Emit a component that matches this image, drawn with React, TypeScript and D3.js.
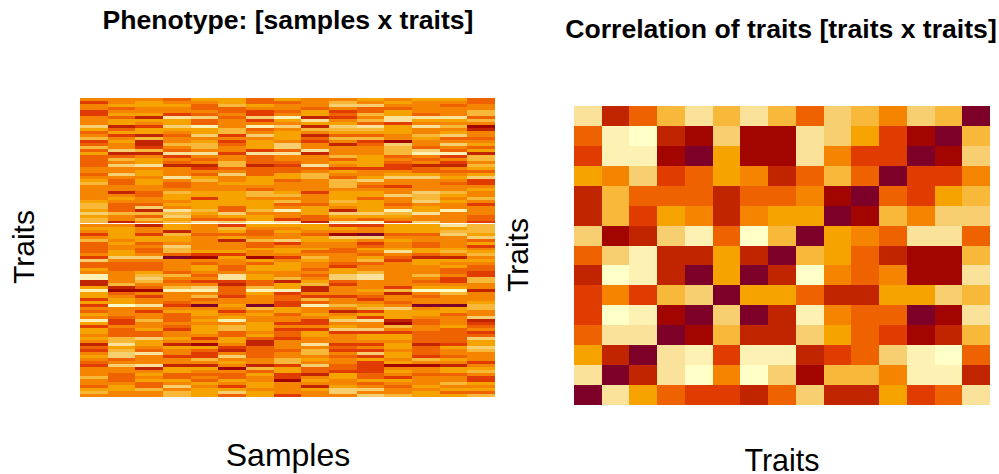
import React from "react";
import * as d3 from "d3";

// Colour levels of the heatmaps, darkest to lightest
const levelColors = ["#7d0029","#a20500","#c02500","#e03c00","#ee6200","#f58500","#f6a300","#f8b83a","#f7cf71","#fbe29a","#fef1b4","#ffffc8"];
const levelIds = "0123456789ab".split("");

// Phenotype: one string per sample, 100 traits, top to bottom (level per trait)
const phenotypeColumns = [
  "5355335558"+"6457347464"+"4445545675"+"5555677686"+"7756535744"+"445384465a"+"a226a66363"+"5465a63665"+"6524356543"+"5557554675",
  "5564564662"+"4635655824"+"7585585445"+"5256544475"+"5256666565"+"5668544455"+"557214566b"+"5554335444"+"7796788458"+"5544456655",
  "5665562653"+"6627223725"+"6695665665"+"5445548274"+"7525536645"+"4458544467"+"8754153559"+"5355755644"+"8665495559"+"2565644755",
  "4565539668"+"6545575493"+"5425559544"+"5766565978"+"6766276658"+"7740555547"+"5457a55543"+"5644454355"+"6526553552"+"6644658577",
  "654454844a"+"6685677595"+"4523546755"+"5663666765"+"4955545555"+"5631546654"+"5358a57450"+"5665656665"+"3516433752"+"6545465666",
  "6674454555"+"7735345535"+"5774585565"+"5666664486"+"4837646255"+"5636554459"+"9324443556"+"5356a57744"+"6653258565"+"1544653684",
  "446533835a"+"4585666394"+"4424446665"+"4775666756"+"6a65445744"+"6551646656"+"6447a65550"+"7565566656"+"4224444552"+"7465566566",
  "645545a658"+"5666588495"+"5434466455"+"5675745a55"+"3965655835"+"6653566655"+"7266a34433"+"6645535344"+"3555455773"+"6633155553",
  "5554662962"+"7524355925"+"5594577555"+"5355546664"+"4266546655"+"6457655454"+"567225374a"+"5565335366"+"5595775658"+"4425652655",
  "5785343568"+"7647525557"+"4653654777"+"5666765286"+"5936518655"+"4455543668"+"8435553557"+"5256856835"+"5534354554"+"4366556885",
  "6584475749"+"7647345556"+"6663556854"+"5664666686"+"4a35508534"+"6546745579"+"9555654356"+"7363955836"+"6535383633"+"3344645858",
  "5654669936"+"6655187774"+"5433568553"+"5585545a76"+"5366645655"+"6954355555"+"5553725545"+"8666217536"+"6566566561"+"5653654557",
  "6555549659"+"55765548a5"+"4524468555"+"5877856695"+"5866645544"+"6642665557"+"5456b54550"+"5665445544"+"4424443751"+"5545556566",
  "6545559657"+"56845854a3"+"5325456545"+"5765655a55"+"5596785555"+"6752656445"+"3356b75550"+"6645556444"+"4436554652"+"6645575646",
  "4455774751"+"2554564627"+"7576468335"+"6557535554"+"4377768463"+"5675654433"+"7755255567"+"7558234534"+"8668755535"+"6753365647",
];

// Correlation of traits: one string per row, top to bottom
const correlationRows = [
  "924797974875870",
  "4ab218119863107",
  "3aa106119533018",
  "658346524740335",
  "274442445104367",
  "273652566017588",
  "8128a4b70654994",
  "48a226207642117",
  "2ba20602b545119",
  "353780664226687",
  "3ba10802a544019",
  "499017228643127",
  "6209a3aa2348ab4",
  "9029b5b81775aa2",
  "096433248226349",
];

const phenotypeTitle = "Phenotype: [samples x traits]";
const correlationTitle = "Correlation of traits [traits x traits]";
const sampleLabel = "Samples";
const traitLabel = "Traits";
const seamTraits = [41];

const color = d3.scaleOrdinal<string, string>().domain(levelIds).range(levelColors);
const FONT = "'Liberation Sans', Arial, sans-serif";

export default function App() {
  const nTraits = phenotypeColumns[0].length;
  const px = d3.scaleBand<number>().domain(d3.range(phenotypeColumns.length)).range([80, 495]);
  const py = d3.scaleBand<number>().domain(d3.range(nTraits)).range([98, 397]);
  const cx = d3.scaleBand<number>().domain(d3.range(correlationRows.length)).range([574, 990]);
  const cy = d3.scaleBand<number>().domain(d3.range(correlationRows.length)).range([106, 405]);
  return (
    <svg width={999} height={474} style={{ position: "absolute", left: 0, top: 0, display: "block", background: "#fff" }} fontFamily={FONT}>
      <g shapeRendering="crispEdges">
        {phenotypeColumns.map((col, i) =>
          col.split("").map((v, j) => (
            <rect key={`p${i}-${j}`} x={px(i)} y={py(j)} width={px.bandwidth()}
              height={py.bandwidth() - (seamTraits.includes(j) ? 1 : 0)} fill={color(v)} />
          ))
        )}
        {correlationRows.map((row, j) =>
          row.split("").map((v, i) => (
            <rect key={`c${i}-${j}`} x={cx(i)} y={cy(j)} width={cx.bandwidth()} height={cy.bandwidth()} fill={color(v)} />
          ))
        )}
      </g>
      <text x={288} y={29} textAnchor="middle" fontWeight="bold" fontSize={26.6}>{phenotypeTitle}</text>
      <text x={781} y={38} textAnchor="middle" fontWeight="bold" fontSize={26.6}>{correlationTitle}</text>
      <text x={288} y={466} textAnchor="middle" fontSize={32}>{sampleLabel}</text>
      <text x={782} y={471} textAnchor="middle" fontSize={30.5}>{traitLabel}</text>
      <text transform="translate(34,247) rotate(-90)" textAnchor="middle" fontSize={30}>{traitLabel}</text>
      <text transform="translate(528,255) rotate(-90)" textAnchor="middle" fontSize={30}>{traitLabel}</text>
    </svg>
  );
}
